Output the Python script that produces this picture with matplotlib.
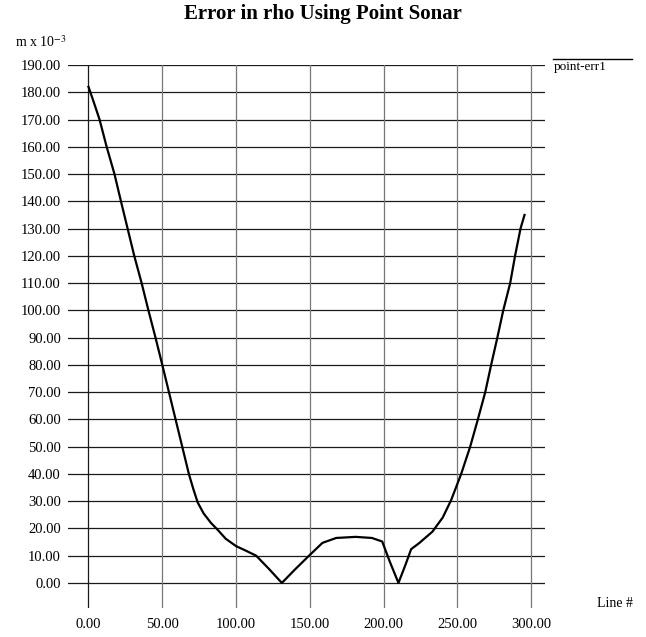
import matplotlib
matplotlib.use("Agg")
import matplotlib.pyplot as plt

# curve
line_no = [0, 3.5, 7.5, 12.3, 17.6, 22, 26.5, 31, 36, 40.6, 45.4, 50, 54.5, 59, 63.5, 68, 71,
           74, 78, 83, 87.5, 93, 100, 106, 113.6, 122, 131, 140, 150, 158.5, 167.8, 181, 192,
           199, 204, 210, 215, 218.6, 224, 233, 240, 245.7, 252.5, 258.6, 263.8, 268.8, 272.8,
           277, 281, 285.7, 289, 292.7, 295.4]
err = [182, 176.5, 170, 160, 150, 140, 130, 120, 110, 100, 90, 80, 70, 60, 50, 40, 34.5,
       29.5, 25.5, 22, 19.5, 16.2, 13.5, 12, 10, 5.3, 0, 5, 10.3, 14.7, 16.5, 16.9, 16.5,
       15.2, 8, 0, 7, 12.4, 14.6, 18.8, 24, 30.4, 40, 50, 60, 70, 80,
       90, 100, 110, 120, 130, 135]

x_ticks = [0, 50, 100, 150, 200, 250, 300]
y_ticks = list(range(0, 191, 10))

plt.rcParams["font.family"] = ["Liberation Serif", "DejaVu Serif"]
plt.rcParams["mathtext.fontset"] = "stix"

fig = plt.figure(figsize=(6.46, 6.37), dpi=100)
ax = fig.add_axes([0.105, 0.0455, 0.738, 0.8524])

for y in y_ticks:
    ax.axhline(y, color="#1a1a1a", lw=0.9, zorder=1)
for x in x_ticks:
    ax.axvline(x, color="#1a1a1a" if x == 0 else "#777777", lw=0.9, zorder=1)

ax.plot(line_no, err, color="black", lw=1.6, zorder=3)

ax.set_xlim(-14, 309)
ax.set_ylim(-9.2, 190)
ax.set_xticks(x_ticks)
ax.set_xticklabels([f"{v:.2f}" for v in x_ticks])
ax.set_yticks(y_ticks)
ax.set_yticklabels([f"{v:.2f}" for v in y_ticks])
ax.tick_params(length=0, labelsize=10.5)
ax.tick_params(axis="y", pad=5)
ax.tick_params(axis="x", pad=7)
for s in ax.spines.values():
    s.set_visible(False)

fig.text(0.5, 0.978, "Error in rho Using Point Sonar", ha="center", va="center",
         fontsize=15, fontweight="bold")
fig.text(0.023, 0.934, r"m x 10$^{-3}$", ha="left", va="center", fontsize=10)
fig.text(0.924, 0.052, "Line #", ha="left", va="center", fontsize=10)

# legend drawn by hand, line above the label
fig.add_artist(plt.Line2D([0.856, 0.978], [0.907, 0.907], color="black", lw=1.0))
fig.text(0.857, 0.895, "point-err1", ha="left", va="center", fontsize=9.5)

fig.savefig("out.png", dpi=100)
